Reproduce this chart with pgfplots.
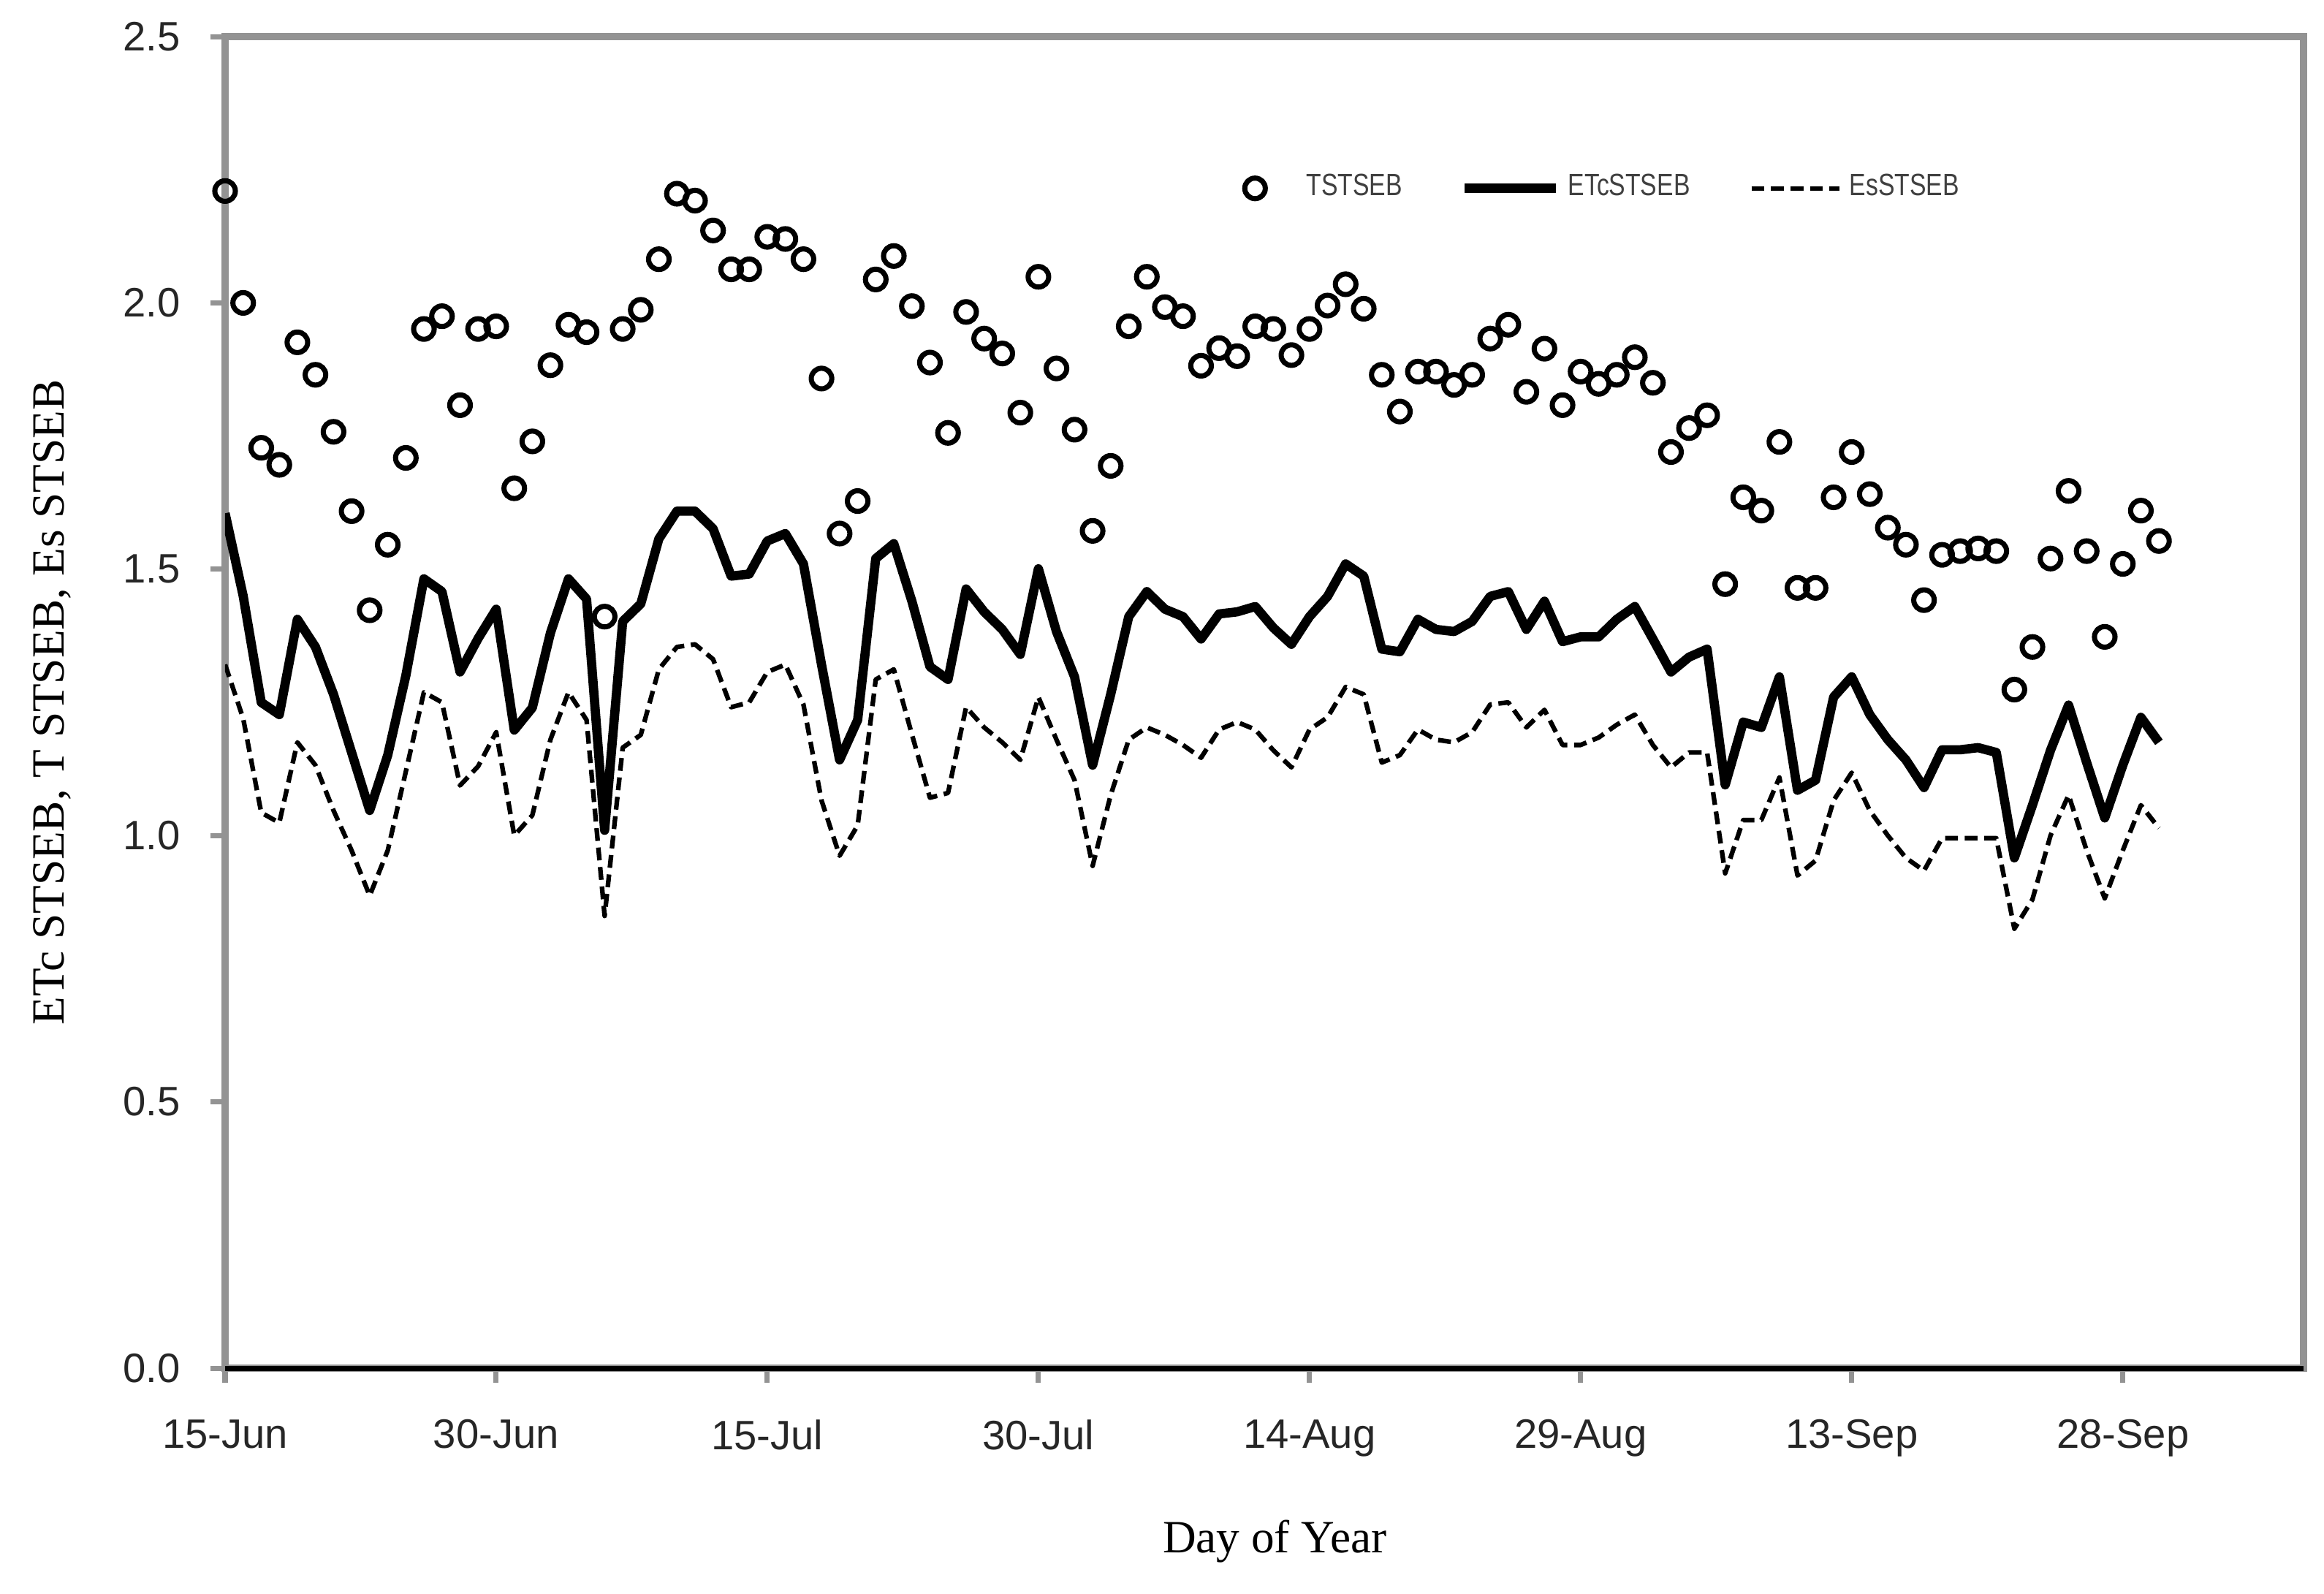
\documentclass[border=0pt]{standalone}
\usepackage{pgfplots}
\pgfplotsset{compat=1.18}
\usepackage{pgfplotstable}
\usepackage{fontspec}
\setmainfont{Liberation Sans}
\newfontfamily\serifX{Liberation Serif}
\newfontfamily\legfont[FakeStretch=0.8]{Liberation Sans}
\definecolor{axgray}{HTML}{939393}

\pgfplotsset{
  legT/.style={legend image code/.code={\path (-0.1cm,-0.1cm) (0.345cm,0.1cm); \draw[##1] plot coordinates {(0cm,0cm)};}},
  legE/.style={legend image code/.code={\path (0cm,-0.1cm) (0.675cm,0.1cm); \draw[##1] (0cm,0cm) -- (0.625cm,0cm);}},
  legS/.style={legend image code/.code={\path (0cm,-0.1cm) (0.655cm,0.1cm); \draw[##1] (0cm,0cm) -- (0.6cm,0cm);}},
}

\pgfplotstableread{
day T ETc Es
0 2.210 1.605 1.321
1 2.000 1.450 1.220
2 1.728 1.250 1.043
3 1.696 1.227 1.024
4 1.926 1.406 1.175
5 1.865 1.354 1.132
6 1.758 1.265 1.047
7 1.609 1.156 0.972
8 1.423 1.047 0.887
9 1.546 1.151 0.972
10 1.709 1.300 1.120
11 1.951 1.482 1.269
12 1.975 1.458 1.250
13 1.808 1.307 1.094
14 1.951 1.370 1.130
15 1.956 1.425 1.194
16 1.652 1.198 1.000
17 1.740 1.240 1.038
18 1.883 1.380 1.180
19 1.959 1.482 1.269
20 1.945 1.444 1.217
21 1.411 1.010 0.849
22 1.951 1.402 1.165
23 1.987 1.435 1.189
24 2.082 1.557 1.312
25 2.205 1.609 1.354
26 2.192 1.609 1.359
27 2.136 1.576 1.331
28 2.063 1.487 1.241
29 2.063 1.491 1.250
30 2.124 1.553 1.307
31 2.120 1.567 1.321
32 2.082 1.510 1.246
33 1.858 1.321 1.066
34 1.567 1.142 0.962
35 1.628 1.217 1.019
36 2.044 1.520 1.293
37 2.088 1.548 1.312
38 1.994 1.440 1.190
39 1.888 1.317 1.071
40 1.756 1.293 1.080
41 1.983 1.463 1.241
42 1.933 1.420 1.203
43 1.905 1.387 1.175
44 1.794 1.340 1.142
45 2.049 1.501 1.260
46 1.877 1.383 1.180
47 1.762 1.298 1.104
48 1.572 1.132 0.943
49 1.694 1.265 1.076
50 1.956 1.411 1.180
51 2.049 1.458 1.203
52 1.992 1.425 1.189
53 1.975 1.411 1.170
54 1.882 1.369 1.146
55 1.915 1.416 1.199
56 1.900 1.420 1.213
57 1.956 1.430 1.199
58 1.951 1.390 1.160
59 1.902 1.359 1.128
60 1.951 1.411 1.199
61 1.995 1.449 1.222
62 2.035 1.510 1.279
63 1.989 1.487 1.265
64 1.865 1.350 1.137
65 1.796 1.345 1.151
66 1.871 1.406 1.199
67 1.871 1.387 1.180
68 1.846 1.383 1.175
69 1.865 1.402 1.194
70 1.933 1.449 1.246
71 1.959 1.458 1.250
72 1.833 1.387 1.203
73 1.914 1.440 1.236
74 1.808 1.364 1.170
75 1.871 1.373 1.170
76 1.848 1.373 1.184
77 1.865 1.406 1.208
78 1.898 1.430 1.227
79 1.850 1.369 1.170
80 1.720 1.307 1.128
81 1.765 1.335 1.156
82 1.789 1.350 1.156
83 1.472 1.095 0.929
84 1.635 1.213 1.029
85 1.610 1.203 1.029
86 1.739 1.298 1.109
87 1.465 1.085 0.925
88 1.465 1.104 0.953
89 1.635 1.260 1.066
90 1.720 1.298 1.118
91 1.641 1.227 1.047
92 1.578 1.180 1.000
93 1.546 1.142 0.958
94 1.442 1.090 0.934
95 1.527 1.161 0.995
96 1.534 1.161 0.995
97 1.539 1.165 0.995
98 1.534 1.156 0.995
99 1.274 0.958 0.825
100 1.354 1.057 0.880
101 1.520 1.160 1.000
102 1.647 1.245 1.076
103 1.534 1.137 0.972
104 1.373 1.033 0.882
105 1.510 1.132 0.972
106 1.610 1.222 1.057
107 1.553 1.175 1.014
}\datatable

\begin{document}
\begin{tikzpicture}
\useasboundingbox (-1.54,-1.54) rectangle (14.36,9.36);
\begin{axis}[
  at={(0,0)}, anchor=south west,
  scale only axis,
  width=14.22cm, height=9.11cm,
  xmin=0, xmax=115, ymin=0, ymax=2.5,
  xtick={0,15,30,45,60,75,90,105},
  xticklabels={15-Jun,30-Jun,15-Jul,30-Jul,14-Aug,29-Aug,13-Sep,28-Sep},
  ytick={0,0.5,1,1.5,2,2.5},
  /pgf/number format/assume math mode=true,
  tick pos=left,
  tick align=outside,
  major tick length=0.1cm,
  tick style={axgray, line width=1pt},
  axis line style={axgray, line width=1.3pt},
  ticklabel style={font=\fontsize{8}{9}\selectfont, text=black!85},
  xticklabel style={anchor=north, inner sep=0pt, yshift=-0.245cm},
  yticklabel style={anchor=east, inner sep=0pt, xshift=-0.2cm,
    /pgf/number format/fixed, /pgf/number format/fixed zerofill,
    /pgf/number format/precision=1},
  xlabel={\serifX Day of Year},
  ylabel={\serifX ETc STSEB, T STSEB, Es STSEB},
  label style={font=\fontsize{9}{11}\selectfont, text=black},
  xlabel style={at={(axis description cs:0.505,-0.130)}, anchor=center},
  ylabel style={at={(axis description cs:-0.0833,0.5)}, anchor=center},
  legend columns=3,
  legend cell align=left,
  legend style={draw=none, fill=none, inner sep=0pt, outer sep=0pt,
    at={(axis description cs:0.488,0.886)}, anchor=west,
    font=\legfont\fontsize{6}{7}\selectfont, text=black!75,
    nodes={inner sep=0pt},
    column sep=0pt,
    /tikz/column 2/.style={column sep=0.395cm},
    /tikz/column 4/.style={column sep=0.405cm}},
  after end axis/.code={\draw[black, line width=1pt] (rel axis cs:0,0) -- (rel axis cs:1,0);},
]
\addplot[only marks, mark=o, mark size=2.0pt, mark options={black, line width=1pt}, legT]
  table[x=day, y=T] {\datatable};
\addlegendentry{TSTSEB}
\addplot[black, line width=1.8pt, line join=round, mark=none, legE]
  table[x=day, y=ETc] {\datatable};
\addlegendentry{ETcSTSEB}
\addplot[black, line width=0.9pt, dash pattern=on 2.5pt off 1.3pt, line join=round, mark=none, legS]
  table[x=day, y=Es] {\datatable};
\addlegendentry{EsSTSEB}
\end{axis}
\end{tikzpicture}
\end{document}
